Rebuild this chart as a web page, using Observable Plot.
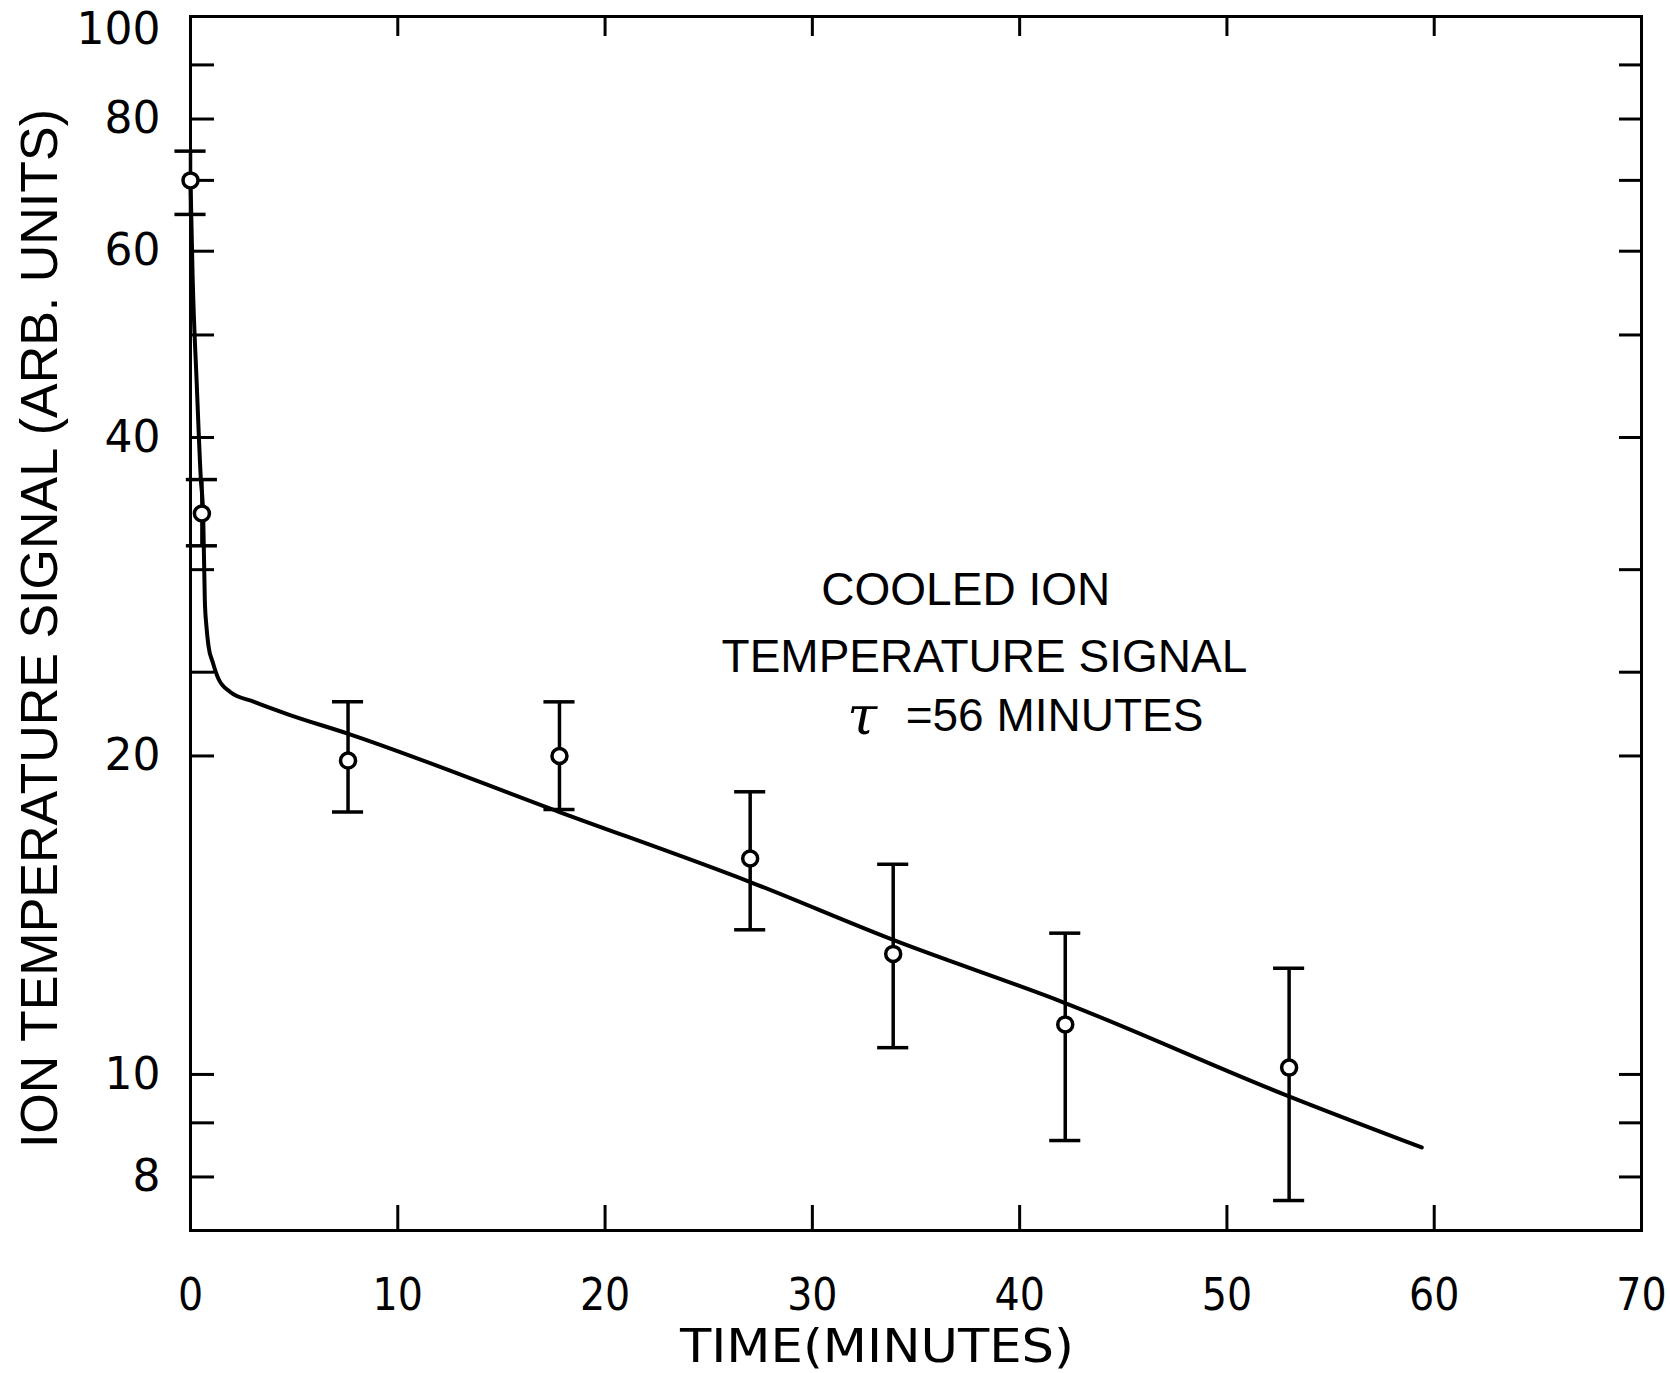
<!DOCTYPE html>
<html><head><meta charset="utf-8">
<script src="https://cdn.jsdelivr.net/npm/d3@7"></script>
<script src="https://cdn.jsdelivr.net/npm/@observablehq/plot@0.6"></script>
<style>body{margin:0;background:#fff} svg{display:block;background:#fff}</style>
</head><body><div id="chart"></div>
<script>
// measured points (minutes, arbitrary units)
const pointTime   = [0, 0.55, 7.6, 17.8, 27.0, 33.9, 42.2, 53.0];
const pointSignal = [70, 33.9, 19.8, 20.0, 16.0, 13.0, 11.15, 10.15];
const errorLow    = [65, 31.6, 17.7, 17.8, 13.7, 10.6, 8.66, 7.6];
const errorHigh   = [74.6, 36.5, 22.5, 22.5, 18.5, 15.8, 13.6, 12.6];
// fitted curve
const fitTime   = [0, 0.1, 0.3, 0.5, 0.61, 0.69, 0.77, 0.87, 1.08, 1.33, 1.9, 3.07, 4.7, 7.58, 17.8, 27.0, 33.9, 42.1, 52.9, 59.4];
const fitSignal = [70, 57, 45, 36.5, 33.9, 28.1, 26.5, 25.4, 24.5, 23.7, 23.0, 22.5, 21.9, 21.0, 17.7, 15.2, 13.4, 11.7, 9.55, 8.53];
// axes
const xTickLabels = [0, 10, 20, 30, 40, 50, 60, 70];
const xTickMarks  = [10, 20, 30, 40, 50, 60];
const yTickLabels = [100, 80, 60, 40, 20, 10, 8];
const yTickMarks  = [90, 80, 70, 60, 50, 40, 30, 24, 20, 10, 9, 8];
const xLabel = "TIME(MINUTES)";
const yLabel = "ION TEMPERATURE SIGNAL (ARB. UNITS)";
const noteLine1 = "COOLED ION";
const noteLine2 = "TEMPERATURE SIGNAL";
const noteTau = "τ";
const noteTauValue = "=56 MINUTES";

const points = pointTime.map((t, i) => ({t, v: pointSignal[i], lo: errorLow[i], hi: errorHigh[i]}));
const fit = fitTime.map((t, i) => ({t, v: fitSignal[i]}));

const W = 1670, H = 1373, mL = 190, mR = 29, mT = 16, mB = 143;
const pw = W - mL - mR, ph = H - mT - mB;
const capHalf = 0.75;
const sans = "'Liberation Sans', Arial, sans-serif";
const narrow = "'Liberation Sans Narrow', 'DejaVu Sans Condensed', 'Liberation Sans', sans-serif";
const topLabel = yTickLabels.filter(d => d === 100);
const otherLabels = yTickLabels.filter(d => d !== 100);

const chart = Plot.plot({
  width: W, height: H,
  marginLeft: mL, marginRight: mR, marginTop: mT, marginBottom: mB,
  style: {background: "white", color: "black"},
  x: {domain: [0, 70], axis: null},
  y: {type: "log", domain: [7.12, 100], axis: null},
  marks: [
    Plot.frame({stroke: "black", strokeWidth: 3}),
    Plot.tickY(yTickMarks, {y: d => d, insetRight: pw - 24, strokeWidth: 3}),
    Plot.tickY(yTickMarks, {y: d => d, insetLeft: pw - 22, strokeWidth: 3}),
    Plot.tickX(xTickMarks, {x: d => d, insetTop: ph - 25, strokeWidth: 3}),
    Plot.tickX(xTickMarks, {x: d => d, insetBottom: ph - 20, strokeWidth: 3}),
    Plot.line(fit, {x: "t", y: "v", curve: "monotone-x", stroke: "black", strokeWidth: 4}),
    Plot.ruleX(points, {x: "t", y1: "lo", y2: "hi", stroke: "black", strokeWidth: 3.5}),
    Plot.ruleY(points, {y: "lo", x1: d => d.t - capHalf, x2: d => d.t + capHalf, stroke: "black", strokeWidth: 3.5}),
    Plot.ruleY(points, {y: "hi", x1: d => d.t - capHalf, x2: d => d.t + capHalf, stroke: "black", strokeWidth: 3.5}),
    Plot.dot(points, {x: "t", y: "v", r: 7.5, fill: "white", stroke: "black", strokeWidth: 3.5}),
    Plot.text(otherLabels, {y: d => d, text: d => String(d), frameAnchor: "left", textAnchor: "end", dx: -30, fontSize: 44, fontFamily: "'DejaVu Sans', sans-serif", fill: "black"}),
    Plot.text(topLabel, {y: d => d, text: d => String(d), frameAnchor: "left", textAnchor: "end", dx: -30, dy: 13, fontSize: 44, fontFamily: "'DejaVu Sans', sans-serif", fill: "black"}),
    Plot.text(xTickLabels, {x: d => d, text: d => String(d), frameAnchor: "bottom", dy: 79, fontSize: 44, fontFamily: narrow, fill: "black"}),
    Plot.text([xLabel], {frameAnchor: "bottom", dx: -39, dy: 131, fontSize: 46, fontFamily: narrow, fill: "black"}),
    Plot.text([yLabel], {frameAnchor: "left", textAnchor: "middle", rotate: -90, dx: -150, dy: 5, fontSize: 52, fontFamily: sans, fill: "black"}),
    Plot.text([noteLine1], {x: () => 37.4, y: () => 28.7, fontSize: 46, fontFamily: sans, fill: "black"}),
    Plot.text([noteLine2], {x: () => 38.3, y: () => 24.8, fontSize: 46, fontFamily: sans, fill: "black"}),
    Plot.text([noteTau], {x: () => 32.4, y: () => 21.8, fontSize: 54, fontStyle: "italic", fontFamily: "'DejaVu Serif', serif", fill: "black"}),
    Plot.text([noteTauValue], {x: () => 34.5, y: () => 21.8, textAnchor: "start", fontSize: 46, fontFamily: sans, fill: "black"})
  ]
});
document.getElementById("chart").appendChild(chart);
d3.select(chart).selectAll("text")
  .filter(function() { return this.textContent === xLabel; })
  .attr("textLength", 394)
  .attr("lengthAdjust", "spacingAndGlyphs");
</script>
</body></html>
